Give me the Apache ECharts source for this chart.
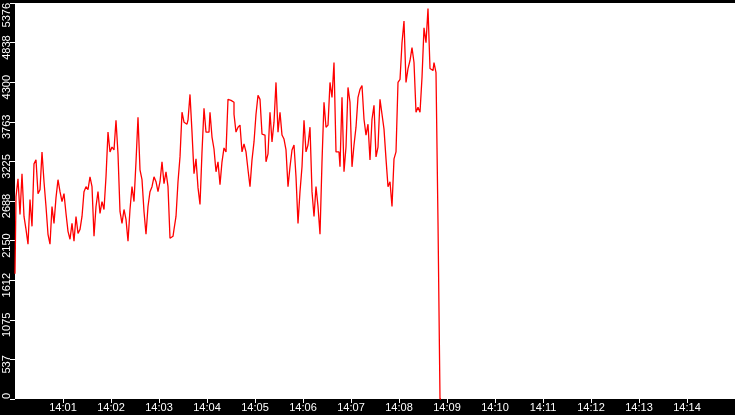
<!DOCTYPE html>
<html><head><meta charset="utf-8">
<script src="https://cdn.jsdelivr.net/npm/echarts@6/dist/echarts.min.js"></script>
<style>html,body{margin:0;padding:0;background:#000}#c{width:735px;height:415px}</style>
</head><body><div id="c"></div>
<script>
const startClock = '14:00';
const endClock = '14:15';
const sampleSeconds = 2.5;
const values = [
  1700, 2748, 2990, 2505, 3058, 2478, 2303, 2101, 2707, 2344, 3192, 3246, 2788, 2842, 3354, 2950, 2613, 2236, 2101, 2613, 2384, 2734, 2977, 2815, 2680, 2788, 2519, 2276, 2169, 2384, 2142, 2478, 2249, 2303, 2478, 2815, 2883, 2842, 3017, 2883, 2209, 2613, 2815, 2519, 2680,
  2573, 3017, 3623, 3354, 3421, 3381, 3785, 3327, 2546, 2384, 2573, 2438, 2142, 2573, 2883, 2680, 3220, 3825, 3112, 2977, 2546, 2236, 2613, 2815, 2883, 3017, 2950, 2815, 2950, 3220, 2923, 3085, 2883, 2182, 2209, 2303, 2478, 2950, 3287, 3893, 3758, 3731, 3785,
  4135, 3623, 3058, 3260, 2869, 2640, 3354, 3947, 3623, 3623, 3893, 3556, 3394, 3085, 3220, 2910, 3220, 3408, 3354, 4068, 4054, 4029, 3866, 3623, 3690, 3718, 3354, 3462, 3354, 3112, 2883, 3246, 3490, 3866, 4122, 4068, 3597, 3583, 3220, 3327, 3893, 3490,
  3758, 4298, 3623, 3893, 3583, 3529, 3381, 2883, 3152, 3381, 3448, 3017, 2384, 2815, 3152, 3785, 3354, 3448, 3690, 2815, 2478, 2883, 2613, 2236, 3220, 4029, 3690, 3718, 4298, 4095, 4568, 3354, 3354, 3152, 4095, 3085, 3421, 4230, 4029, 3152, 3448, 3690, 4095,
  4203, 4257, 3798, 3583, 3731, 3246, 3798, 3987, 3287, 3421, 4068, 3866, 3664, 3260, 2883, 2950, 2613, 3260, 3354, 4298, 4338, 4837, 5130, 4298, 4486, 4595, 4770, 4568, 3893, 3960, 3893, 4365, 5038, 4837, 5300, 4486, 4459, 4568, 4432, 2400, 0
];
const xTickLabels = ['14:01','14:02','14:03','14:04','14:05','14:06','14:07','14:08','14:09','14:10','14:11','14:12','14:13','14:14'];
const yMax = 5376;
const yStep = 537.6;

function clockToSec(s){ const p = s.split(':').map(Number); return (p[0]*60 + p[1]) * 60; }
const t0 = clockToSec(startClock);
const tEnd = clockToSec(endClock) - t0;
const data = values.map((v, i) => [i * sampleSeconds, v]);
const xTicks = xTickLabels.map(l => clockToSec(l) - t0);
function secToClock(s){ const m = Math.round((s + t0) / 60); const h = Math.floor(m / 60), mm = m % 60; return h + ':' + (mm < 10 ? '0' : '') + mm; }

const chart = echarts.init(document.getElementById('c'), null, {renderer: 'canvas'});
chart.setOption({
  backgroundColor: '#000',
  animation: false,
  grid: {left: 15, right: 0, top: 0, bottom: 16, show: true, backgroundColor: '#fff', borderWidth: 0, containLabel: false},
  xAxis: {
    type: 'value', min: 0, max: tEnd,
    axisLine: {show: false},
    splitLine: {show: false},
    axisTick: {show: true, customValues: xTicks, length: 4, lineStyle: {color: '#fff', width: 1}},
    axisLabel: {customValues: xTicks, formatter: v => secToClock(v), color: '#fff', fontSize: 11, margin: 3, fontFamily: 'Liberation Sans'}
  },
  yAxis: {
    type: 'value', min: 0, max: yMax, interval: yStep,
    axisLine: {show: false},
    splitLine: {show: false},
    axisTick: {show: true, length: 5, lineStyle: {color: '#fff', width: 1}},
    axisLabel: {rotate: 90, color: '#fff', fontSize: 11, margin: 3, fontFamily: 'Liberation Sans',
      formatter: v => {
        const s = String(Math.floor(v + 1e-6));
        return (v > 0 && v < yMax - 1) ? '{p|' + s + '}' : '{q|' + s + '}';
      },
      rich: {
        p: {color: '#fff', fontSize: 11, fontFamily: 'Liberation Sans', padding: [0, 10, 0, 0]},
        q: {color: '#fff', fontSize: 11, fontFamily: 'Liberation Sans'}
      },
      alignMinLabel: 'left', alignMaxLabel: 'right'}
  },
  series: [{
    type: 'line', data: data, showSymbol: false, symbol: 'none', step: 'middle',
    lineStyle: {color: '#ff0000', width: 1.3}, clip: true
  }]
});
</script></body></html>
